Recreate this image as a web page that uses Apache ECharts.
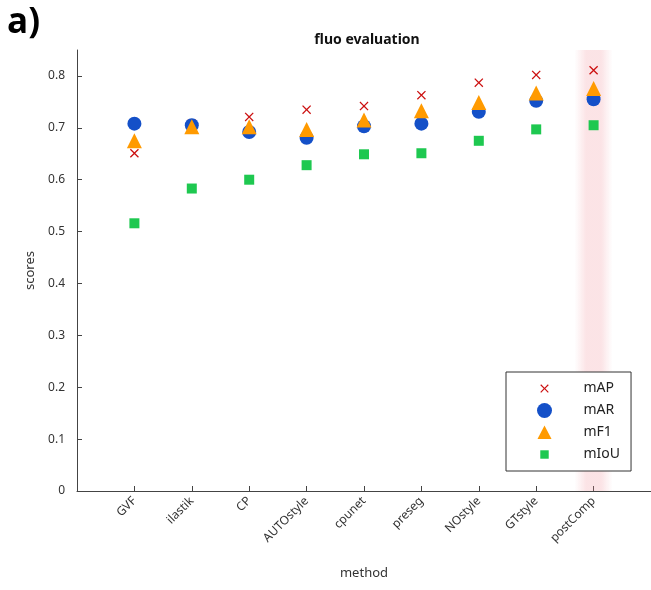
<!DOCTYPE html>
<html>
<head>
<meta charset="utf-8">
<script src="https://cdn.jsdelivr.net/npm/echarts@6/dist/echarts.min.js"></script>
<style>
  html, body { margin: 0; padding: 0; background: #fff; }
  #chart { width: 651px; height: 590px; }
</style>
</head>
<body>
<div id="chart"></div>
<script>
// methods along the x axis (placed at 1..9)
const methods = ['GVF', 'ilastik', 'CP', 'AUTOstyle', 'cpunet', 'preseg', 'NOstyle', 'GTstyle', 'postComp'];
const mAP  = [0.651, 0.708, 0.721, 0.735, 0.742, 0.763, 0.787, 0.802, 0.811];
const mAR  = [0.708, 0.705, 0.692, 0.681, 0.703, 0.708, 0.731, 0.752, 0.755];
const mF1  = [0.675, 0.702, 0.702, 0.697, 0.715, 0.733, 0.749, 0.767, 0.776];
const mIoU = [0.516, 0.583, 0.600, 0.628, 0.649, 0.651, 0.675, 0.697, 0.705];
const yTicks = [0, 0.1, 0.2, 0.3, 0.4, 0.5, 0.6, 0.7, 0.8];
const highlighted = 'postComp';

const font = 'Noto Sans';
const crossPath = 'path://M0,1 L1,0 L5,4 L9,0 L10,1 L6,5 L10,9 L9,10 L5,6 L1,10 L0,9 L4,5 Z';
// legend icons: same shapes with empty margin so they come out at plot size
const legendIcons = {
  mAP: 'path://M0,0 M16,16 M3.5,4.4 L4.4,3.5 L8,7.1 L11.6,3.5 L12.5,4.4 L8.9,8 L12.5,11.6 L11.6,12.5 L8,8.9 L4.4,12.5 L3.5,11.6 L7.1,8 Z',
  mAR: 'circle',
  mF1: 'path://M0,0 M16,16 M8,0.5 L15.5,15 L0.5,15 Z',
  mIoU: 'path://M0,0 M16,16 M3.5,3.5 L12.5,3.5 L12.5,12.5 L3.5,12.5 Z'
};
const xPos = methods.map((m, i) => i + 1);
const toPts = arr => arr.map((v, i) => [i + 1, v]);
const hiX = methods.indexOf(highlighted) + 1;

const chart = echarts.init(document.getElementById('chart'));

chart.setOption({
  animation: false,
  textStyle: { fontFamily: font },
  title: {
    text: 'fluo evaluation',
    left: 362, top: 28, textAlign: 'center',
    textStyle: { fontFamily: font, fontSize: 14, fontWeight: 'bold', color: '#111' }
  },
  graphic: [{
    type: 'text', left: 7, top: 6,
    style: { text: 'a)', font: 'bold 35px "Open Sans"', fill: '#000' }
  }],
  grid: { left: 77, right: 0, top: 50, bottom: 99 },
  legend: {
    orient: 'vertical',
    left: 506, top: 372,
    padding: [9, 11, 9, 31],
    itemWidth: 28, itemHeight: 15, itemGap: 7,
    borderColor: '#333', borderWidth: 1,
    backgroundColor: '#fff',
    textStyle: { fontFamily: font, fontSize: 14, color: '#222', padding: [0, 0, 0, 20] },
    data: ['mAP', 'mAR', 'mF1', 'mIoU'].map(n => ({ name: n, icon: legendIcons[n] }))
  },
  xAxis: {
    type: 'value', min: 0, max: 10, interval: 1,
    name: 'method', nameLocation: 'middle', nameGap: 76,
    nameTextStyle: { fontFamily: font, fontSize: 13, color: '#333' },
    axisLine: { lineStyle: { color: '#444', width: 1 } },
    axisTick: { inside: true, length: 5, lineStyle: { color: '#444' }, customValues: xPos },
    axisLabel: {
      rotate: 45, fontSize: 12, color: '#333', margin: 8,
      customValues: xPos,
      formatter: v => methods[v - 1] || ''
    },
    splitLine: { show: false }
  },
  yAxis: {
    type: 'value', min: 0, max: 0.85, interval: 0.1,
    name: 'scores', nameLocation: 'middle', nameGap: 34,
    nameTextStyle: { fontFamily: font, fontSize: 13, color: '#333' },
    axisLine: { show: true, lineStyle: { color: '#444', width: 1 } },
    axisTick: { show: true, inside: true, length: 5, lineStyle: { color: '#444' }, customValues: yTicks },
    axisLabel: { fontSize: 12, color: '#333', margin: 12, customValues: yTicks, formatter: v => String(+v.toFixed(1)) },
    splitLine: { show: false }
  },
  series: [
    {
      name: 'mAP', type: 'scatter', symbol: crossPath, symbolSize: 9,
      itemStyle: { color: '#cc1010', opacity: 1 },
      data: toPts(mAP),
      markArea: {
        silent: true,
        itemStyle: {
          color: new echarts.graphic.LinearGradient(0, 0, 1, 0, [
            { offset: 0, color: 'rgba(240,140,150,0)' },
            { offset: 0.3, color: 'rgba(240,140,150,0.24)' },
            { offset: 0.7, color: 'rgba(240,140,150,0.24)' },
            { offset: 1, color: 'rgba(240,140,150,0)' }
          ])
        },
        data: [[{ xAxis: hiX - 0.33, yAxis: 0 }, { xAxis: hiX + 0.33, yAxis: 0.85 }]]
      }
    },
    {
      name: 'mAR', type: 'scatter', symbol: 'circle', symbolSize: 14,
      itemStyle: { color: '#1450c8', opacity: 1 },
      data: toPts(mAR)
    },
    {
      name: 'mF1', type: 'scatter', symbol: 'triangle', symbolSize: 15,
      itemStyle: { color: '#ff9a00', opacity: 1 },
      data: toPts(mF1)
    },
    {
      name: 'mIoU', type: 'scatter', symbol: 'rect', symbolSize: 10,
      itemStyle: { color: '#1ec850', opacity: 1 },
      data: toPts(mIoU)
    }
  ]
});
</script>
</body>
</html>
